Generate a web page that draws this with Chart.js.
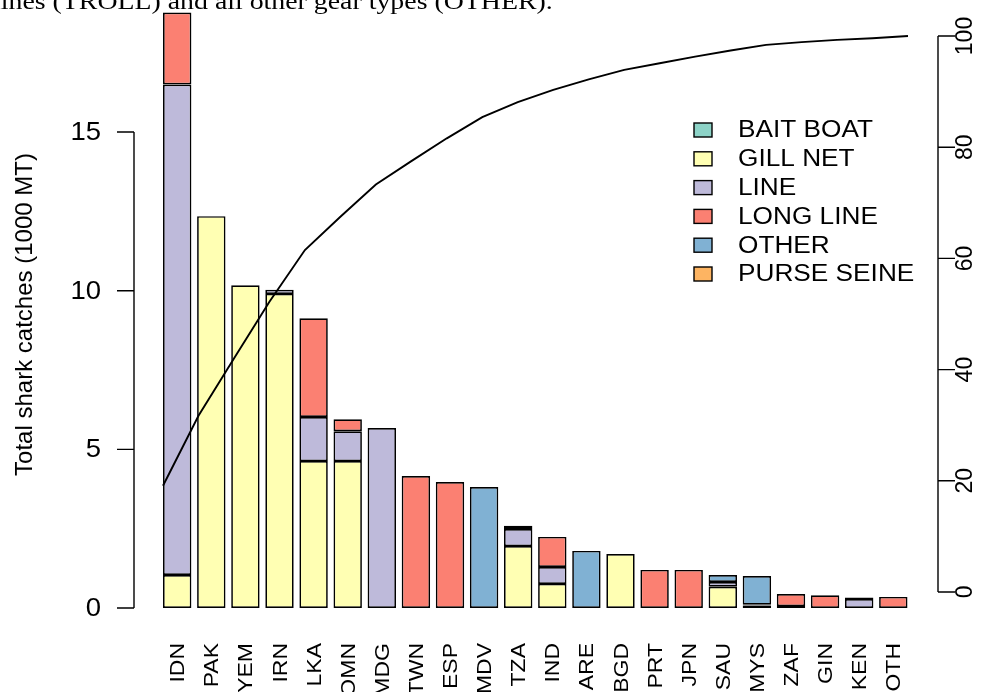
<!DOCTYPE html>
<html lang="en">
<head>
  <meta charset="UTF-8">
  <title>Total shark catches by country and gear</title>
  <script src="https://cdn.jsdelivr.net/npm/chart.js"></script>
  <style>
    body {
      margin: 0;
      background: #fff;
    }
    #wrap {
      position: relative;
      width: 1003px;
      height: 692px;
      overflow: hidden;
    }
    #chart {
      position: absolute;
      left: 0;
      top: 0;
    }
    #caption {
      position: absolute;
      left: -7px;
      top: -12px;
      font-family: "Liberation Serif", "Times New Roman", serif;
      font-size: 24px;
      white-space: nowrap;
      transform: scaleX(1.16);
      transform-origin: left top;
      color: #000;
    }
  </style>
</head>
<body>
  <div id="wrap">
    <canvas id="chart" width="1003" height="692"></canvas>
    <div id="caption">lines (TROLL) and all other gear types (OTHER).</div>
  </div>

  <script>
    // countries, sorted by total catch
    const countries = ['IDN', 'PAK', 'YEM', 'IRN', 'LKA', 'OMN', 'MDG', 'TWN', 'ESP', 'MDV', 'TZA',
                       'IND', 'ARE', 'BGD', 'PRT', 'JPN', 'SAU', 'MYS', 'ZAF', 'GIN', 'KEN', 'OTH'];

    // catches per gear (1000 MT)
    const baitBoat   = [0, 0, 0, 0, 0, 0, 0, 0, 0, 0, 0, 0, 0, 0, 0, 0, 0, 0, 0, 0, 0, 0];
    const gillNet    = [1.04, 12.35, 10.17, 9.90, 4.63, 4.63, 0, 0, 0, 0, 1.95, 0.76, 0, 1.70, 0, 0, 0.67, 0.06, 0, 0, 0, 0];
    const lineGear   = [15.46, 0, 0, 0.13, 1.39, 0.94, 5.67, 0, 0, 0, 0.54, 0.53, 0, 0, 0, 0, 0.15, 0.02, 0.06, 0, 0.28, 0];
    const longLine   = [2.27, 0, 0, 0, 3.11, 0.38, 0, 4.16, 3.97, 0, 0.10, 0.95, 0, 0, 1.20, 1.20, 0, 0.02, 0.38, 0.40, 0.05, 0.35];
    const otherGear  = [0, 0, 0, 0, 0, 0, 0, 0, 0, 3.81, 0, 0, 1.80, 0, 0, 0, 0.22, 0.91, 0, 0, 0, 0];
    const purseSeine = [0, 0, 0, 0, 0, 0, 0, 0, 0, 0, 0, 0, 0, 0, 0, 0, 0, 0, 0, 0, 0, 0];

    // cumulative share of the total (%)
    const cumulativePct = [19.1, 31.7, 42.0, 52.2, 61.5, 67.5, 73.3, 77.5, 81.6, 85.4, 88.1,
                           90.3, 92.2, 93.9, 95.1, 96.3, 97.4, 98.4, 98.9, 99.3, 99.6, 100];

    const gearNames  = ['BAIT BOAT', 'GILL NET', 'LINE', 'LONG LINE', 'OTHER', 'PURSE SEINE'];
    const gearColors = ['#8DD3C7', '#FFFFB3', '#BEBADA', '#FB8072', '#80B1D3', '#FDB462'];

    const leftTicks  = [0, 5, 10, 15];
    const rightTicks = [0, 20, 40, 60, 80, 100];

    const FONT = '"Liberation Sans", Arial, Helvetica, sans-serif';

    function drawText(ctx, text, x, y, rot, align, sx) {
      ctx.save();
      ctx.translate(x, y);
      ctx.scale(sx || 1, 1);
      ctx.rotate(rot);
      ctx.textAlign = align;
      ctx.textBaseline = 'middle';
      ctx.fillText(text, 0, 0);
      ctx.restore();
    }

    // base-R style axes, labels and legend
    const rAxes = {
      id: 'rAxes',
      afterDraw(chart) {
        const ctx = chart.ctx;
        const y = chart.scales.y;
        const y2 = chart.scales.y2;
        const x = chart.scales.x;

        ctx.save();
        ctx.strokeStyle = '#000';
        ctx.fillStyle = '#000';
        ctx.lineWidth = 1.4;

        // left axis
        const ax = 134;
        ctx.beginPath();
        ctx.moveTo(ax, y.getPixelForValue(leftTicks[0]));
        ctx.lineTo(ax, y.getPixelForValue(leftTicks[leftTicks.length - 1]));
        leftTicks.forEach(t => {
          const py = y.getPixelForValue(t);
          ctx.moveTo(ax, py);
          ctx.lineTo(ax - 17, py);
        });
        ctx.stroke();
        ctx.font = '25px ' + FONT;
        leftTicks.forEach(t => {
          drawText(ctx, String(t), 101, y.getPixelForValue(t) + 1, 0, 'right', 1.1);
        });
        ctx.font = '24px ' + FONT;
        drawText(ctx, 'Total shark catches (1000 MT)', 25,
          (chart.chartArea.top + chart.chartArea.bottom) / 2 - 2, -Math.PI / 2, 'center');

        // right axis
        const bx = 938;
        ctx.beginPath();
        ctx.moveTo(bx, y2.getPixelForValue(rightTicks[0]));
        ctx.lineTo(bx, y2.getPixelForValue(rightTicks[rightTicks.length - 1]));
        rightTicks.forEach(t => {
          const py = y2.getPixelForValue(t);
          ctx.moveTo(bx, py);
          ctx.lineTo(bx + 17, py);
        });
        ctx.stroke();
        ctx.font = '23px ' + FONT;
        rightTicks.forEach(t => {
          drawText(ctx, String(t), 966, y2.getPixelForValue(t), -Math.PI / 2, 'center');
        });

        // country labels
        ctx.font = '23px ' + FONT;
        countries.forEach((c, i) => {
          drawText(ctx, c, x.getPixelForValue(i) + 1.5, 643, -Math.PI / 2, 'right', 0.88);
        });

        // legend
        ctx.font = '23px ' + FONT;
        const bars = chart.data.datasets.filter(d => d.type !== 'line');
        bars.forEach((d, i) => {
          const ly = 130 + i * 28.8;
          ctx.fillStyle = d.backgroundColor;
          ctx.fillRect(694, ly - 7, 18, 14);
          ctx.lineWidth = 1.4;
          ctx.strokeRect(694, ly - 7, 18, 14);
          ctx.fillStyle = '#000';
          drawText(ctx, d.label, 738, ly + 1, 0, 'left', 1.14);
        });
        ctx.restore();
      }
    };

    const series = [baitBoat, gillNet, lineGear, longLine, otherGear, purseSeine];
    const barSets = series.map((vals, i) => ({
      type: 'bar',
      label: gearNames[i],
      data: vals,
      stack: 'gear',
      grouped: false,
      backgroundColor: gearColors[i],
      borderColor: '#000',
      borderWidth: 1.7,
      borderSkipped: false,
      barPercentage: 0.833,
      categoryPercentage: 1,
      xAxisID: 'x',
      yAxisID: 'y',
      order: 1
    }));

    const lineSet = {
      type: 'line',
      label: 'Cumulative %',
      data: cumulativePct.map((v, i) => ({ x: i, y: v })),
      borderColor: '#000',
      borderWidth: 1.9,
      pointRadius: 0,
      tension: 0,
      fill: false,
      xAxisID: 'xl',
      yAxisID: 'y2',
      order: 0
    };

    new Chart(document.getElementById('chart').getContext('2d'), {
      type: 'bar',
      data: {
        labels: countries,
        datasets: [...barSets, lineSet]
      },
      options: {
        responsive: false,
        animation: false,
        devicePixelRatio: 1,
        layout: {
          padding: { left: 160.15, right: 92.65, top: 8, bottom: 67 }
        },
        plugins: {
          legend: { display: false },
          tooltip: { enabled: false }
        },
        scales: {
          x: { display: false, stacked: true, offset: true },
          xl: { type: 'linear', display: false, offset: false, min: -0.0803, max: 21.066 },
          y: { display: false, stacked: true, min: -0.536, max: 18.91 },
          y2: { display: false, position: 'right', offset: false, min: -5.94, max: 105.04 }
        }
      },
      plugins: [rAxes]
    });
  </script>
</body>
</html>
